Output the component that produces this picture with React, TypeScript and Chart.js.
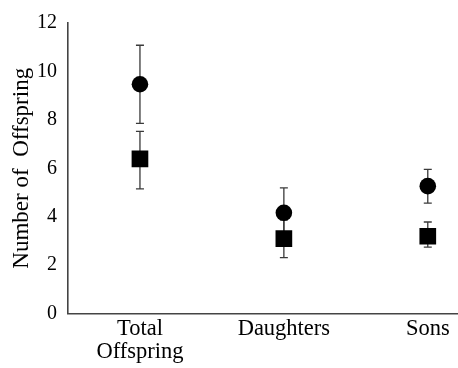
import React, { useEffect, useRef } from 'react';
import { Chart, registerables } from 'chart.js';
Chart.register(...registerables);

const categories: string[][] = [['Total', 'Offspring'], ['Daughters'], ['Sons']];
const yTickValues = [0, 2, 4, 6, 8, 10, 12];
const circleMean = [9.47, 4.16, 5.26];
const circleLow = [7.85, 3.13, 4.56];
const circleHigh = [11.08, 5.19, 5.95];
const squareMean = [6.39, 3.09, 3.19];
const squareLow = [5.15, 2.31, 2.74];
const squareHigh = [7.52, 3.87, 3.78];

const FONT = '"Liberation Serif", "Times New Roman", serif';

const errorBarPlugin = {
  id: 'errorBars',
  beforeDatasetsDraw(chart: any) {
    const { ctx, scales } = chart;
    const xs = scales.x;
    const ys = scales.y;
    ctx.save();
    ctx.strokeStyle = '#3a3a3a';
    ctx.lineWidth = 1.3;
    chart.data.datasets.forEach((ds: any) => {
      ds.data.forEach((pt: any, i: number) => {
        const x = xs.getPixelForValue(pt.x);
        const yl = ys.getPixelForValue(ds.errLow[i]);
        const yh = ys.getPixelForValue(ds.errHigh[i]);
        const cap = 4;
        ctx.beginPath();
        ctx.moveTo(x, yl);
        ctx.lineTo(x, yh);
        ctx.moveTo(x - cap, yl);
        ctx.lineTo(x + cap, yl);
        ctx.moveTo(x - cap, yh);
        ctx.lineTo(x + cap, yh);
        ctx.stroke();
      });
    });
    ctx.restore();
  },
};

export default function App() {
  const ref = useRef<HTMLCanvasElement>(null);
  useEffect(() => {
    if (!ref.current) return;
    const chart = new Chart(ref.current, {
      type: 'scatter',
      data: {
        datasets: [
          {
            label: 'Group 1',
            data: circleMean.map((v, i) => ({ x: i, y: v })),
            errLow: circleLow,
            errHigh: circleHigh,
            pointStyle: 'circle',
            pointRadius: 8.3,
            pointHoverRadius: 8.3,
            backgroundColor: '#000',
            borderColor: '#000',
            borderWidth: 0,
          } as any,
          {
            label: 'Group 2',
            data: squareMean.map((v, i) => ({ x: i, y: v })),
            errLow: squareLow,
            errHigh: squareHigh,
            pointStyle: 'rect',
            pointRadius: 11.8,
            pointHoverRadius: 11.8,
            backgroundColor: '#000',
            borderColor: '#000',
            borderWidth: 0,
          } as any,
        ],
      },
      options: {
        animation: false,
        responsive: false,
        layout: { autoPadding: false, padding: { top: 22, left: 0, right: 0, bottom: 0 } },
        plugins: { legend: { display: false }, tooltip: { enabled: false } },
        scales: {
          x: {
            type: 'linear',
            min: -0.5,
            max: 2.21,
            afterBuildTicks: (scale: any) => {
              scale.ticks = categories.map((_, i) => ({ value: i }));
            },
            afterFit: (scale: any) => {
              scale.height = 54.5;
              scale.paddingLeft = 0;
              scale.paddingRight = 0;
            },
            grid: { display: false, drawTicks: false },
            border: { display: true, color: '#444', width: 1.6 },
            ticks: {
              color: '#000',
              padding: 4,
              maxRotation: 0,
              autoSkip: false,
              font: { family: FONT, size: 22.5, lineHeight: 1.02 },
              callback: (v: any) => categories[v as number] ?? '',
            },
          },
          y: {
            min: 0,
            max: 12,
            afterBuildTicks: (scale: any) => {
              scale.ticks = yTickValues.map((v) => ({ value: v }));
            },
            afterFit: (scale: any) => {
              scale.width = 68;
            },
            grid: { display: false, drawTicks: false },
            border: { display: true, color: '#444', width: 1.6 },
            ticks: {
              color: '#000',
              padding: 11,
              font: { family: FONT, size: 20 },
            },
            title: {
              display: true,
              text: 'Number of  Offspring',
              color: '#000',
              padding: { top: 8, bottom: 0 },
              font: { family: FONT, size: 23 },
            },
          },
        },
      },
      plugins: [errorBarPlugin],
    });
    return () => chart.destroy();
  }, []);
  return (
    <div style={{ position: 'fixed', left: 0, top: 0, width: 458, height: 368, background: '#fff' }}>
      <canvas ref={ref} width={458} height={368} style={{ display: 'block' }} />
    </div>
  );
}
